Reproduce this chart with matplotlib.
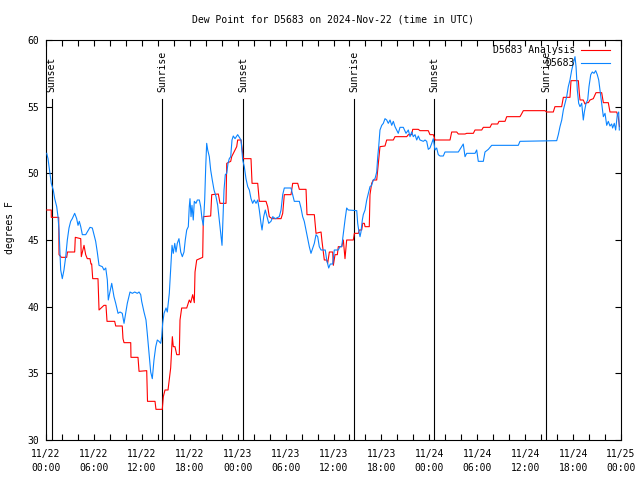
import matplotlib
matplotlib.use("Agg")
import matplotlib.pyplot as plt
from matplotlib.ticker import FixedLocator, MultipleLocator

# ---------------- data ----------------
title = "Dew Point for D5683 on 2024-Nov-22 (time in UTC)"
ylabel = "degrees F"
series_names = ["D5683 Analysis", "D5683"]

# hours since 2024-11-22 00:00 UTC
analysis_hours = [0.09, 0.66, 0.66, 1.59, 1.63, 1.92, 2.59, 2.69, 3.59, 3.67, 4.35, 4.42, 4.76, 4.97,
                  5.17, 5.51, 5.63, 5.72, 5.85, 6.51, 6.64, 7.26, 7.51, 7.64, 8.60, 8.73, 9.55, 9.64,
                  9.77, 10.61, 10.64, 11.52, 11.65, 12.61, 12.71, 13.65, 13.77, 14.56, 14.69, 14.90,
                  15.28, 15.61, 15.82, 15.94, 16.15, 16.37, 16.69, 16.78, 16.99, 17.62, 17.94, 18.12,
                  18.37, 18.57, 18.66, 18.87, 19.62, 19.70, 20.62, 20.75, 21.58, 21.79, 22.54, 22.63,
                  23.13, 23.25, 23.88, 24.00, 24.42, 24.71, 25.67, 25.80, 26.51, 26.71, 27.55, 27.76,
                  27.96, 28.30, 29.43, 29.64, 29.84, 30.68, 30.89, 31.52, 31.72, 32.56, 32.68, 33.60,
                  33.81, 34.44, 34.56, 34.72, 34.85, 35.15, 35.27, 35.48, 35.90, 35.98, 36.19, 36.48,
                  36.60, 37.03, 37.23, 37.44, 37.65, 38.48, 38.61, 39.11, 39.23, 39.53, 39.66, 39.86,
                  39.95, 40.48, 40.57, 40.78, 40.98, 41.41, 41.61, 41.82, 42.45, 42.66, 43.49, 43.70,
                  45.17, 45.37, 45.79, 45.92, 46.62, 46.83, 47.87, 48.08, 48.50, 48.71, 50.59, 50.80,
                  51.43, 51.63, 52.47, 52.68, 53.51, 53.72, 54.56, 54.76, 55.60, 55.81, 56.56, 56.72,
                  57.48, 57.69, 59.35, 59.50, 59.77, 62.48, 62.69, 63.52, 63.73, 64.57, 64.78, 65.61,
                  65.74, 66.66, 66.78, 66.87, 67.28, 67.49, 67.71, 67.91, 68.12, 68.53, 68.87, 69.58,
                  69.79, 70.41, 70.62, 71.46, 71.66, 71.81]
analysis_values = [47.25, 47.25, 46.7, 46.7, 43.9, 43.7, 43.7, 44.1, 44.1, 45.2, 45.1, 43.75, 44.6, 43.9,
                   43.6, 43.6, 43.2, 43.2, 42.1, 42.1, 39.75, 40.1, 40.1, 38.9, 38.9, 38.55, 38.55, 37.6,
                   37.3, 37.3, 36.2, 36.2, 35.15, 35.2, 32.9, 32.9, 32.3, 32.3, 33.25, 33.75,
                   33.75, 35.4, 37.75, 37.0, 37.0, 36.4, 36.4, 39.0, 39.9, 39.9, 40.5, 40.3,
                   40.9, 40.3, 42.6, 43.5, 43.7, 46.75, 46.8, 48.4, 48.45, 47.75, 47.75, 50.75,
                   50.9, 51.25, 52.0, 52.5, 52.5, 51.1, 51.1, 49.25, 49.25, 47.9, 47.9, 47.5,
                   46.75, 46.6, 46.6, 47.0, 48.4, 48.4, 49.25, 49.25, 48.8, 48.8, 46.9, 46.9,
                   45.5, 45.6, 44.9, 44.1, 43.5, 43.5, 43.25, 44.1, 44.1, 43.1, 43.9, 43.9,
                   44.5, 44.5, 45.0, 43.6, 45.0, 45.0, 45.5, 45.5, 45.75, 45.75, 46.25, 46.25,
                   46.0, 46.0, 48.4, 49.25, 49.5, 49.5, 50.75, 52.0, 52.05, 52.5, 52.5, 52.75,
                   52.75, 52.9, 52.9, 53.3, 53.3, 53.2, 53.2, 52.9, 52.9, 52.5, 52.5, 53.1,
                   53.1, 52.95, 52.95, 53.0, 53.0, 53.25, 53.25, 53.45, 53.45, 53.7, 53.7, 53.9,
                   53.9, 54.25, 54.25, 54.4, 54.7, 54.7, 54.6, 54.6, 55.0, 55.0, 55.7, 55.7,
                   56.95, 56.95, 56.0, 55.5, 55.5, 55.2, 55.3, 55.3, 55.5, 55.6, 56.05, 56.05,
                   55.3, 55.3, 54.6, 54.6, 54.2, 53.5]

station_hours = [0.09, 0.25, 0.50, 0.66, 0.91, 1.09, 1.34, 1.50, 1.63, 1.75, 1.84, 2.04, 2.25, 2.47,
                 2.67, 2.88, 3.09, 3.29, 3.59, 3.84, 4.01, 4.17, 4.35, 4.55, 4.97, 5.17, 5.51, 5.80,
                 6.01, 6.22, 6.42, 6.64, 7.05, 7.26, 7.48, 7.68, 7.80, 8.01, 8.23, 8.51, 8.73, 9.02,
                 9.27, 9.55, 9.77, 9.98, 10.18, 10.52, 10.81, 11.11, 11.43, 11.65, 11.86, 11.98, 12.27,
                 12.52, 12.68, 12.90, 13.11, 13.31, 13.52, 13.74, 13.94, 14.15, 14.36, 14.49, 14.61,
                 14.78, 15.03, 15.19, 15.44, 15.61, 15.78, 15.94, 16.12, 16.28, 16.44, 16.65, 16.87,
                 17.07, 17.28, 17.44, 17.62, 17.82, 17.94, 18.03, 18.16, 18.28, 18.44, 18.57, 18.78,
                 18.95, 19.20, 19.37, 19.53, 19.70, 19.87, 20.00, 20.12, 20.25, 20.45, 20.62, 20.82,
                 21.04, 21.29, 21.50, 21.70, 21.88, 22.04, 22.16, 22.29, 22.45, 22.63, 22.79, 22.95,
                 23.13, 23.29, 23.45, 23.67, 23.88, 24.00, 24.21, 24.42, 24.63, 24.83, 25.04, 25.26,
                 25.46, 25.67, 25.88, 26.08, 26.30, 26.51, 26.71, 26.92, 27.05, 27.26, 27.46, 27.67,
                 27.89, 28.17, 28.39, 28.71, 29.21, 29.43, 29.64, 29.84, 30.68, 30.89, 31.09, 31.72,
                 31.93, 32.14, 32.34, 32.56, 32.77, 32.97, 33.18, 33.40, 33.60, 33.81, 34.02, 34.22,
                 34.44, 34.97, 35.15, 35.40, 35.60, 35.90, 36.10, 36.60, 36.81, 37.03, 37.23, 37.44,
                 37.65, 37.85, 38.91, 39.03, 39.19, 39.32, 39.44, 39.61, 39.73, 39.95, 40.16, 40.36,
                 40.57, 40.78, 40.98, 41.20, 41.41, 41.54, 41.66, 41.82, 42.04, 42.24, 42.45, 42.66,
                 42.86, 43.08, 43.29, 43.49, 43.70, 43.91, 44.11, 44.33, 44.74, 45.08, 45.37, 45.58,
                 45.79, 45.99, 46.21, 46.42, 46.62, 46.83, 47.25, 47.46, 47.67, 47.87, 48.08, 48.30,
                 48.50, 48.71, 48.92, 49.12, 49.34, 49.75, 49.96, 51.63, 52.05, 52.25, 52.47, 52.68,
                 53.72, 53.93, 54.13, 54.76, 54.97, 55.39, 55.81, 59.14, 59.35, 63.95, 64.15, 64.36,
                 64.58, 64.78, 64.99, 65.20, 65.40, 65.61, 65.83, 66.03, 66.24, 66.37, 66.53, 66.70,
                 66.87, 67.08, 67.28, 67.41, 67.62, 67.83, 67.99, 68.21, 68.41, 68.62, 68.83, 69.03,
                 69.21, 69.37, 69.58, 69.79, 70.00, 70.21, 70.41, 70.62, 70.83, 70.95, 71.16, 71.33,
                 71.54, 71.71, 71.79]
station_values = [51.5, 51.1, 50.0, 49.25, 48.75, 48.1, 47.5, 46.75, 45.75, 44.0, 42.75, 42.1, 42.75, 43.75,
                  45.0, 45.9, 46.4, 46.6, 47.0, 46.6, 46.1, 46.4, 46.0, 45.4, 45.4, 45.6, 45.95, 45.9,
                  45.4, 44.9, 44.1, 43.1, 43.0, 42.75, 42.9, 42.0, 40.5, 41.1, 41.75, 40.75, 40.25, 39.5,
                  39.6, 39.5, 38.75, 39.5, 40.25, 41.1, 41.0, 41.1, 41.0, 41.1, 40.9, 40.4, 39.6,
                  39.0, 38.0, 36.5, 35.1, 34.6, 36.0, 37.0, 37.5, 37.4, 37.25, 37.75, 38.75,
                  39.5, 39.9, 39.6, 41.0, 42.75, 44.6, 44.0, 44.75, 44.1, 44.75, 45.1, 44.1,
                  43.75, 44.1, 45.0, 45.75, 46.0, 47.5, 48.1, 46.75, 47.6, 46.5, 47.9, 47.75,
                  48.0, 48.0, 47.5, 46.6, 46.1, 48.0, 50.5, 52.25, 51.75, 51.25, 50.25, 49.5,
                  48.75, 48.25, 47.6, 46.5, 45.5, 44.6, 46.5, 48.75, 49.9, 50.0, 50.75, 51.1,
                  51.25, 52.5, 52.8, 52.6, 52.8, 52.9, 52.7, 52.5, 51.0, 50.5, 49.6, 49.0,
                  48.75, 48.1, 47.75, 48.0, 47.75, 48.0, 47.25, 46.25, 45.75, 46.75, 47.25, 46.75,
                  46.25, 46.4, 46.75, 46.6, 46.75, 47.25, 48.4, 48.9, 48.9, 48.4, 47.9, 47.9,
                  47.4, 46.75, 46.4, 45.75, 45.1, 44.5, 44.0, 44.4, 44.75, 45.4, 45.25, 44.5,
                  44.25, 44.25, 43.5, 42.9, 43.2, 43.2, 44.25, 44.25, 44.5, 44.5, 45.5, 46.5,
                  47.4, 47.25, 47.2, 46.25, 45.6, 45.25, 45.6, 46.5, 46.9, 47.25, 48.0, 48.5,
                  49.0, 49.1, 49.5, 49.6, 50.1, 51.25, 52.0, 53.25, 53.6, 53.75, 54.1, 54.0,
                  53.75, 54.0, 53.6, 53.9, 53.5, 53.25, 53.0, 53.45, 53.45, 53.0, 53.25, 52.75,
                  53.1, 52.75, 52.9, 52.5, 52.8, 52.5, 52.4, 52.5, 52.4, 51.8, 51.9, 52.25,
                  52.6, 51.75, 51.9, 51.4, 51.3, 51.3, 51.6, 51.6, 52.0, 52.2, 51.25, 51.5,
                  51.5, 51.75, 50.9, 50.9, 51.6, 51.8, 52.1, 52.1, 52.4, 52.45, 52.9, 53.5,
                  54.0, 54.75, 55.25, 55.75, 56.5, 57.0, 57.75, 58.25, 58.75, 58.0, 56.25, 55.25,
                  55.0, 55.25, 54.0, 54.6, 55.25, 55.5, 56.5, 57.4, 57.6, 57.5, 57.7, 57.4,
                  57.0, 56.25, 55.25, 54.25, 54.5, 53.6, 53.9, 53.55, 53.7, 53.4, 53.75, 53.25,
                  54.4, 54.6, 53.25]

sun_hours = [0.69, 14.56, 24.71, 38.57, 48.60, 62.65]
sun_labels = ["Sunset", "Sunrise", "Sunset", "Sunrise", "Sunset", "Sunrise"]

xtick_hours = [0, 6, 12, 18, 24, 30, 36, 42, 48, 54, 60, 66, 72]
xtick_labels = ["11/22\n00:00", "11/22\n06:00", "11/22\n12:00", "11/22\n18:00",
                "11/23\n00:00", "11/23\n06:00", "11/23\n12:00", "11/23\n18:00",
                "11/24\n00:00", "11/24\n06:00", "11/24\n12:00", "11/24\n18:00",
                "11/25\n00:00"]
yticks = [30, 35, 40, 45, 50, 55, 60]

# ---------------- style ----------------
FONT = "DejaVu Sans Mono"
FS = 7
RED = "#ff0000"
BLUE = "#0a84ff"
LW = 0.8

fig = plt.figure(figsize=(6.4, 4.8), dpi=100)
ax = fig.add_axes([46 / 640, 40 / 480, 575 / 640, 400 / 480])

ax.plot(analysis_hours, analysis_values, color=RED, lw=LW, zorder=3)
ax.plot(station_hours, station_values, color=BLUE, lw=LW, zorder=4)

# sunrise / sunset markers
for h, lab in zip(sun_hours, sun_labels):
    ax.plot([h, h], [30, 55.6], color="black", lw=LW, zorder=2)
    ax.text(h, 56.1, lab, rotation=90, ha="center", va="bottom",
            fontsize=FS, family=FONT, zorder=5)

ax.set_xlim(0, 72)
ax.set_ylim(30, 60)
ax.xaxis.set_major_locator(FixedLocator(xtick_hours))
ax.set_xticklabels(xtick_labels, family=FONT, fontsize=FS, linespacing=1.45)
ax.xaxis.set_minor_locator(MultipleLocator(2))
ax.set_yticks(yticks)
ax.set_yticklabels([str(v) for v in yticks], family=FONT, fontsize=FS)

ax.tick_params(which="both", direction="in", top=True, right=True,
               length=4, width=LW, colors="black")
ax.tick_params(axis="x", which="major", pad=6.5)
ax.tick_params(axis="y", which="major", pad=5)
for s in ax.spines.values():
    s.set_linewidth(LW)
    s.set_color("black")

# title and y label
fig.text(333.5 / 640, 1 - 19 / 480, title, ha="center", va="center",
         fontsize=FS, family=FONT)
fig.text(10 / 640, 1 - 228 / 480, ylabel, ha="center", va="center",
         rotation=90, fontsize=FS, family=FONT)

# gnuplot-style key (text right-aligned, sample after it)
key_rows = [0.975, 0.9425]
key_colors = [RED, BLUE]
for name, yk, c in zip(series_names, key_rows, key_colors):
    ax.text(0.920, yk, name, transform=ax.transAxes, ha="right", va="center",
            fontsize=FS, family=FONT, zorder=6)
    ax.plot([0.930, 0.981], [yk, yk], transform=ax.transAxes, color=c,
            lw=LW, zorder=6, clip_on=False)

fig.savefig("out.png", dpi=100)
